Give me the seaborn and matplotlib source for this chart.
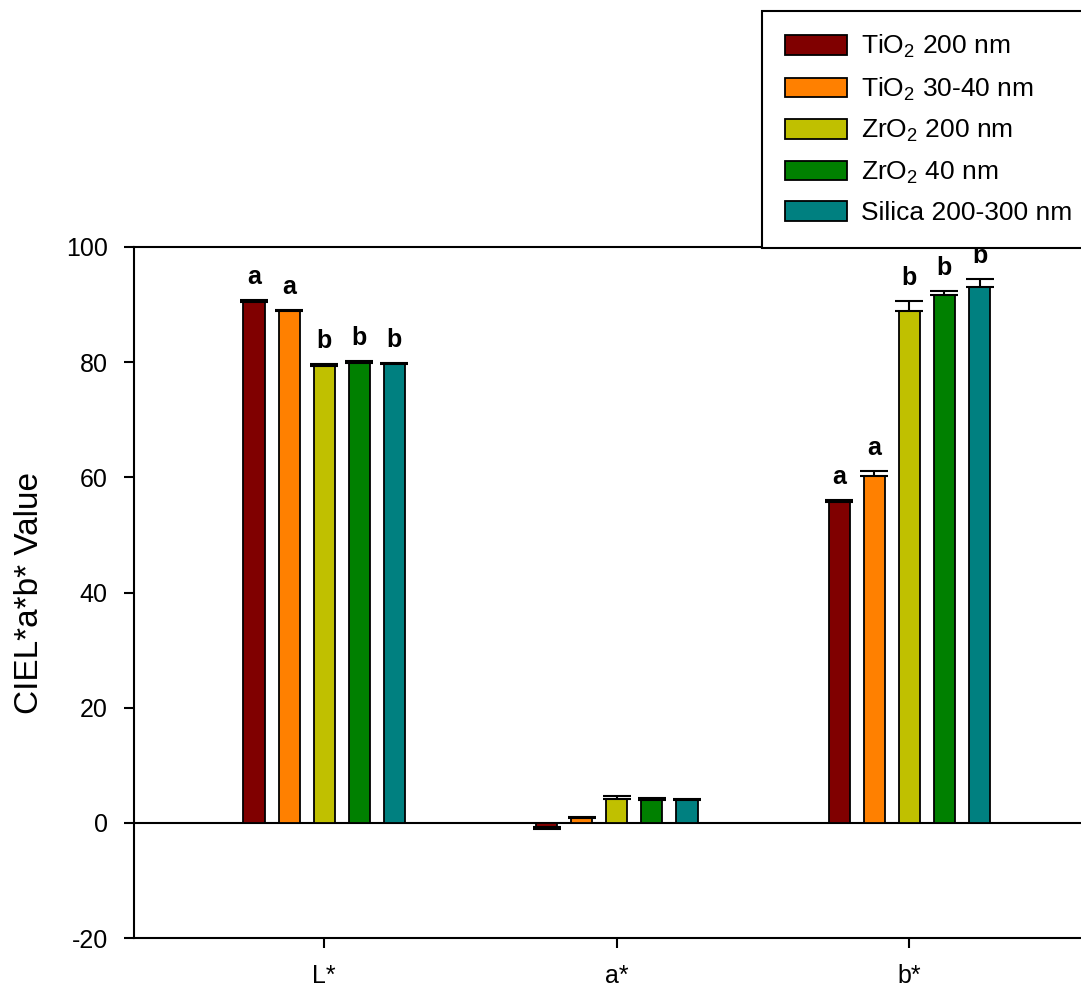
import matplotlib
matplotlib.use("Agg")
import matplotlib.pyplot as plt
import seaborn as sns
import pandas as pd
import numpy as np
from matplotlib.patches import Patch

# ---- data ----
categories = ["L*", "a*", "b*"]
series = ["TiO$_2$ 200 nm", "TiO$_2$ 30-40 nm", "ZrO$_2$ 200 nm", "ZrO$_2$ 40 nm", "Silica 200-300 nm"]
tio2_200 = [90.4, -0.8, 55.7]
tio2_3040 = [88.8, 0.8, 60.2]
zro2_200 = [79.3, 4.2, 88.9]
zro2_40 = [79.9, 4.0, 91.6]
silica = [79.7, 4.0, 93.1]
err_tio2_200 = [0.4, 0.3, 0.3]
err_tio2_3040 = [0.2, 0.2, 0.9]
err_zro2_200 = [0.3, 0.4, 1.7]
err_zro2_40 = [0.3, 0.3, 0.7]
err_silica = [0.2, 0.2, 1.3]
letters_tio2_200 = ["a", "", "a"]
letters_tio2_3040 = ["a", "", "a"]
letters_zro2_200 = ["b", "", "b"]
letters_zro2_40 = ["b", "", "b"]
letters_silica = ["b", "", "b"]
colors = ["#800000", "#FF8000", "#C0C000", "#008000", "#008080"]
yticks = [-20, 0, 20, 40, 60, 80, 100]

values = [tio2_200, tio2_3040, zro2_200, zro2_40, silica]
errors = [err_tio2_200, err_tio2_3040, err_zro2_200, err_zro2_40, err_silica]
letters = [letters_tio2_200, letters_tio2_3040, letters_zro2_200, letters_zro2_40, letters_silica]

rows = []
for s, vals, errs, lets in zip(series, values, errors, letters):
    for c, v, e, l in zip(categories, vals, errs, lets):
        rows.append({"cat": c, "series": s, "value": v, "err": e, "letter": l})
df = pd.DataFrame(rows)

sns.set_theme(style="white")
plt.rcParams["font.family"] = ["Liberation Sans", "DejaVu Sans"]
plt.rcParams["mathtext.fontset"] = "custom"
plt.rcParams["mathtext.rm"] = "Liberation Sans"
plt.rcParams["mathtext.it"] = "Liberation Sans"
plt.rcParams["axes.unicode_minus"] = False
plt.rcParams["text.color"] = "black"
plt.rcParams["axes.labelcolor"] = "black"
plt.rcParams["xtick.color"] = "black"
plt.rcParams["ytick.color"] = "black"

fig = plt.figure(figsize=(10.81, 9.88), dpi=100)
ax = fig.add_axes([0.124, 0.0506, 0.885, 0.6994])

sns.barplot(data=df, x="cat", y="value", hue="series", order=categories,
            hue_order=series, palette=colors, width=0.6, gap=0.4,
            edgecolor="black", linewidth=1.3, errorbar=None, ax=ax,
            legend=False, saturation=1)

# error bars and letters, positioned from the drawn patches
bars = [p for p in ax.patches]
for i, s in enumerate(series):
    for j, c in enumerate(categories):
        p = bars[i * len(categories) + j]
        xc = p.get_x() + p.get_width() / 2
        row = df[(df.series == s) & (df.cat == c)].iloc[0]
        v, e = row["value"], row["err"]
        if v >= 0:
            yerr = [[0], [e]]
        else:
            yerr = [[e], [0]]
        ax.errorbar([xc], [v], yerr=yerr, fmt="none", ecolor="black",
                    elinewidth=1.5, capsize=10, capthick=1.5)
        if row["letter"]:
            ax.text(xc, v + e + 2.8, row["letter"], ha="center", va="baseline",
                    fontsize=18, fontweight="bold", color="black")

ax.axhline(0, color="black", linewidth=1.5, zorder=0.5)
ax.set_xlim(-0.65, 2.62)
ax.set_ylim(-20, 100)
ax.set_yticks(yticks)
ax.set_xlabel("")
ax.set_ylabel("CIEL*a*b* Value", fontsize=24, labelpad=15, color="black")
ax.tick_params(axis="both", direction="out", length=7, width=1.5, colors="black",
               labelsize=18, left=True, bottom=True)
ax.tick_params(axis="y", pad=12)
ax.tick_params(axis="x", pad=12)
for side in ["left", "bottom", "top"]:
    ax.spines[side].set_visible(True)
    ax.spines[side].set_color("black")
    ax.spines[side].set_linewidth(1.5)
ax.spines["right"].set_visible(False)

handles = [Patch(facecolor=c, edgecolor="black", linewidth=1.3, label=s)
           for c, s in zip(colors, series)]
leg = fig.legend(handles=handles, loc="lower left",
                 bbox_to_anchor=(0.705, 0.7494), fontsize=19, frameon=True,
                 fancybox=False, edgecolor="black", handlelength=2.35,
                 handleheight=0.76, labelspacing=0.58, borderpad=0.85,
                 handletextpad=0.55, borderaxespad=0)
leg.get_frame().set_linewidth(1.5)
leg.get_frame().set_alpha(1)
for t in leg.get_texts():
    t.set_color("black")

fig.savefig("out.png", dpi=100)
